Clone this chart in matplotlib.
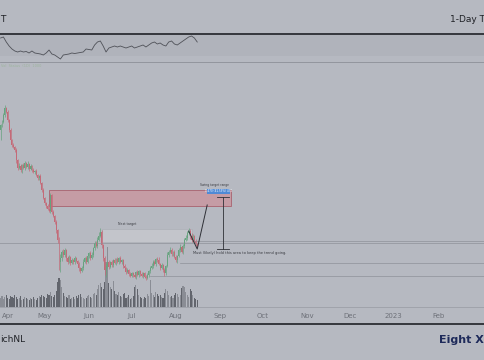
import matplotlib
matplotlib.use("Agg")
import matplotlib.pyplot as plt
import matplotlib.dates as mdates
from matplotlib.patches import Rectangle
from matplotlib.lines import Line2D
import numpy as np
import pandas as pd

W, H = 485, 360
BG = "#b6b9c1"

# daily closes from 2022-03-31
closes = [1.95, 1.98, 2.05, 2.12, 2.08, 2.00, 1.90, 1.80, 1.75, 1.73,
          1.70, 1.60, 1.52, 1.54, 1.50, 1.55, 1.52, 1.57, 1.53, 1.56,
          1.51, 1.54, 1.50, 1.48, 1.49, 1.45, 1.42, 1.44, 1.37, 1.30,
          1.22, 1.17, 1.14, 1.11, 1.09, 1.25, 1.08, 1.04, 0.98, 0.90,
          0.80, 0.58, 0.62, 0.68, 0.65, 0.70, 0.62, 0.58, 0.63, 0.57,
          0.60, 0.58, 0.62, 0.59, 0.56, 0.52, 0.49, 0.52, 0.58, 0.62,
          0.58, 0.64, 0.67, 0.62, 0.65, 0.72, 0.77, 0.74, 0.80, 0.84,
          0.88, 0.75, 0.62, 0.50, 0.54, 0.58, 0.53, 0.58, 0.55, 0.60,
          0.57, 0.61, 0.58, 0.62, 0.58, 0.60, 0.54, 0.52, 0.48, 0.50,
          0.46, 0.44, 0.47, 0.45, 0.43, 0.48, 0.45, 0.49, 0.46, 0.44,
          0.47, 0.43, 0.42, 0.45, 0.49, 0.52, 0.54, 0.58, 0.56, 0.61,
          0.60, 0.56, 0.52, 0.55, 0.50, 0.47, 0.54, 0.65, 0.68, 0.70,
          0.66, 0.68, 0.63, 0.60, 0.64, 0.70, 0.73, 0.68, 0.74, 0.80,
          0.82, 0.87, 0.89, 0.84, 0.80, 0.84, 0.79, 0.76, 0.74]
first_open = 1.90
# wick lengths in cents
upper_wick = [1, 2, 2, 3, 1, 2, 1, 2, 1, 2,
              1, 2, 1, 3, 2, 1, 2, 2, 1, 3,
              1, 2, 1, 2, 1, 2, 1, 1, 2, 1,
              2, 1, 1, 2, 5, 2, 1, 2, 1, 2,
              1, 3, 4, 2, 3, 2, 1, 2, 2, 1,
              2, 1, 2, 1, 1, 2, 1, 2, 3, 1,
              2, 2, 1, 2, 3, 1, 2, 2, 3, 4,
              4, 2, 1, 2, 3, 1, 2, 1, 2, 1,
              2, 1, 2, 1, 2, 1, 1, 2, 1, 2,
              1, 2, 1, 1, 2, 1, 2, 1, 1, 2,
              1, 1, 2, 2, 1, 2, 3, 2, 2, 1,
              2, 3, 1, 2, 1, 2, 1, 3, 2, 3,
              2, 1, 2, 2, 1, 2, 3, 1, 2, 2,
              3, 2, 3, 2, 3, 2, 1, 2, 1]
lower_wick = [10, 2, 1, 2, 1, 2, 2, 1, 2, 1,
              2, 3, 2, 1, 2, 3, 1, 2, 1, 2,
              2, 1, 2, 1, 2, 1, 2, 2, 1, 2,
              1, 2, 2, 1, 1, 2, 2, 1, 2, 3,
              3, 8, 10, 3, 2, 2, 3, 2, 1, 2,
              1, 2, 2, 1, 2, 3, 2, 1, 2, 1,
              2, 1, 2, 2, 1, 2, 2, 1, 2, 1,
              1, 3, 3, 5, 7, 2, 2, 1, 2, 2,
              1, 2, 1, 2, 1, 2, 2, 1, 2, 1,
              2, 1, 1, 2, 1, 2, 1, 2, 2, 1,
              2, 1, 2, 1, 2, 2, 1, 2, 1, 2,
              2, 1, 2, 1, 2, 3, 2, 1, 2, 1,
              2, 2, 1, 2, 3, 1, 2, 1, 2, 2,
              1, 2, 2, 3, 2, 2, 1, 2, 1]
volume = [9, 11, 8, 10, 12, 9, 8, 11, 10, 9,
          12, 10, 8, 9, 11, 7, 8, 10, 9, 8,
          7, 9, 8, 10, 8, 7, 9, 11, 10, 12,
          11, 10, 9, 13, 12, 15, 11, 10, 12, 16,
          25, 29, 27, 20, 14, 11, 10, 9, 12, 8,
          9, 10, 8, 11, 9, 12, 13, 10, 9, 8,
          9, 11, 12, 10, 9, 13, 14, 12, 18, 22,
          24, 20, 18, 25, 45, 60, 24, 20, 18, 26,
          16, 13, 12, 15, 11, 10, 13, 14, 9, 10,
          12, 8, 9, 11, 20, 22, 18, 12, 10, 9,
          8, 10, 9, 13, 11, 27, 14, 12, 10, 15,
          13, 11, 12, 10, 9, 14, 18, 16, 12, 10,
          11, 9, 12, 14, 13, 10, 12, 19, 21, 20,
          15, 12, 10, 18, 16, 12, 9, 8, 7]
# upper pane line, one value every 2 days
ind_vals = [27, 28, 23, 19, 16, 14, 13, 14, 13, 13.5,
            12, 14, 12, 11.5, 11, 10, 12, 15, 11, 10,
            8, 6, 10, 10.5, 11, 12, 11.5, 12, 12.5, 13,
            16, 15.5, 15, 20, 23, 24, 19, 13, 17, 18,
            19, 18, 19, 18, 17, 18, 19, 17, 18, 19,
            20, 18, 20, 22, 23, 21, 22, 20, 19, 23,
            24, 21, 20, 22, 24, 26, 28, 29, 27, 23]

months = ["Apr", "May", "Jun", "Jul", "Aug", "Sep", "Oct", "Nov", "Dec", "2023", "Feb"]
month_starts = ["2022-04-01", "2022-05-01", "2022-06-01", "2022-07-01", "2022-08-01",
                "2022-09-01", "2022-10-01", "2022-11-01", "2022-12-01", "2023-01-01",
                "2023-02-01"]

zone_top, zone_bottom = 1.30, 1.14
next_top, next_bottom = 0.91, 0.78
measure_top, measure_bottom = 1.23, 0.71
levels = [(0.77, "2022-03-29"), (0.79, "2022-08-12"), (0.57, "2022-08-04"), (0.44, "2022-07-14")]
path_dates = ["2022-08-10", "2022-08-16", "2022-08-23"]
path_vals = [0.89, 0.71, 1.15]

dates = pd.date_range("2022-03-31", periods=len(closes), freq="D")
ind_dates = pd.date_range("2022-03-31", periods=len(ind_vals), freq="2D")
d = lambda s: mdates.date2num(pd.Timestamp(s))

c = np.array(closes)
o = np.r_[first_open, c[:-1]]
hi = np.maximum(o, c) + np.array(upper_wick) / 100
lo = np.minimum(o, c) - np.array(lower_wick) / 100
up = c >= o
UP, DN = "#67a37f", "#c46a78"
cols = np.where(up, UP, DN)

fig = plt.figure(figsize=(W / 100, H / 100), dpi=100, facecolor=BG)

def pane(top, bottom):
    a = fig.add_axes([0, 1 - bottom / H, 1, (bottom - top) / H])
    a.set_facecolor("none")
    for s in a.spines.values():
        s.set_visible(False)
    a.set_yticks([])
    return a

x0 = d("2022-04-01") - 2 / 1.425
x1 = x0 + W / 1.425

# indicator pane
ia = pane(35, 62)
ia.set_xlim(x0, x1)
ia.set_ylim(3, 30)
ia.axhspan(9, 30, color="#b0b3bb", lw=0)
ia.plot(ind_dates, ind_vals, color="#4f5158", lw=0.6)
ia.set_xticks([])

# volume
va = pane(70, 307)
va.set_xlim(x0, x1)
va.set_ylim(0, 237)
va.bar(dates, volume, width=0.75, color=np.where(up, "#8a8d95", "#62656d"), lw=0)
va.set_xticks([])

# price
ax = pane(70, 307)
ax.set_xlim(x0, x1)
ax.set_ylim(0.13, 2.50)

ax.add_patch(Rectangle((d("2022-05-04"), zone_bottom), d("2022-09-09") - d("2022-05-04"),
                       zone_top - zone_bottom, facecolor="#c59ca5", edgecolor="#a8626f", lw=0.6))
ax.add_patch(Rectangle((d("2022-06-10"), next_bottom), d("2022-08-12") - d("2022-06-10"),
                       next_top - next_bottom, facecolor="#c3c5cb", edgecolor="#a9acb3", lw=0.4))
for lvl, start in levels:
    ax.plot([d(start), x1], [lvl, lvl], color="#8f929a", lw=0.5)

ax.vlines(dates, lo, hi, colors=cols, lw=0.5)
ax.bar(dates, np.maximum(np.abs(c - o), 0.006), bottom=np.minimum(o, c), width=0.7, color=cols, lw=0)

ax.plot(pd.to_datetime(path_dates), path_vals, color="#2e3036", lw=0.7)
mx = d("2022-09-03")
ax.plot([mx, mx], [measure_bottom, measure_top], color="#2e3036", lw=0.6)
for v in (measure_top, measure_bottom):
    ax.plot([d("2022-08-30"), d("2022-09-07")], [v, v], color="#2e3036", lw=0.6)
ax.add_patch(Rectangle((d("2022-08-23"), 1.26), d("2022-09-08") - d("2022-08-23"), 0.05,
                       facecolor="#4f8ad6", edgecolor="none"))
ax.text(d("2022-08-31"), 1.285, "0.470 (41.53%) 470", fontsize=2, color="white",
        ha="center", va="center")
ax.text(d("2022-08-28"), 1.35, "Swing target range", fontsize=2.2, color="#3a3c42",
        ha="center", va="center")
ax.text(d("2022-06-28"), 0.96, "Next target", fontsize=2.3, color="#3a3c42",
        ha="center", va="center")
ax.text(d("2022-08-13"), 0.67, "Must (likely) hold this area to keep the trend going.",
        fontsize=2.6, color="#3a3c42", ha="left", va="center")

ax.set_xticks([d(m) for m in month_starts])
ax.set_xticklabels(months)
ax.tick_params(axis="x", length=0, pad=4, labelsize=5, labelcolor="#6e7179")
ax.get_xticklabels()[0].set_horizontalalignment("left")
ax.spines["bottom"].set_visible(True)
ax.spines["bottom"].set_color("#9c9fa7")
ax.spines["bottom"].set_linewidth(0.6)

# frame lines
for y, col, lw in [(34, "#2b2d33", 1.3), (62, "#8d9098", 0.6), (324, "#2b2d33", 1.3)]:
    fig.add_artist(Line2D([0, 1], [1 - y / H, 1 - y / H], color=col, lw=lw,
                          transform=fig.transFigure))

# header / footer, as far as the screenshot shows them
fig.text(0.5 / W, 1 - 19 / H, "T", fontsize=6.5, color="#1f2126", ha="left", va="center")
fig.text(450 / W, 1 - 19 / H, "1-Day T", fontsize=6.5, color="#1f2126", ha="left", va="center")
fig.text(1 / W, 1 - 66 / H, "Vol  Status  (1D)  1000", fontsize=2.5, color="#9db49d",
         ha="left", va="center")
fig.text(0.5 / W, 1 - 340 / H, "ichNL", fontsize=6.5, color="#1f2126", ha="left", va="center")
fig.text(484 / W, 1 - 340 / H, "Eight X", fontsize=8, fontweight="bold", color="#1e2a5a",
         ha="right", va="center")

fig.savefig("out.png", dpi=100, facecolor=BG)
